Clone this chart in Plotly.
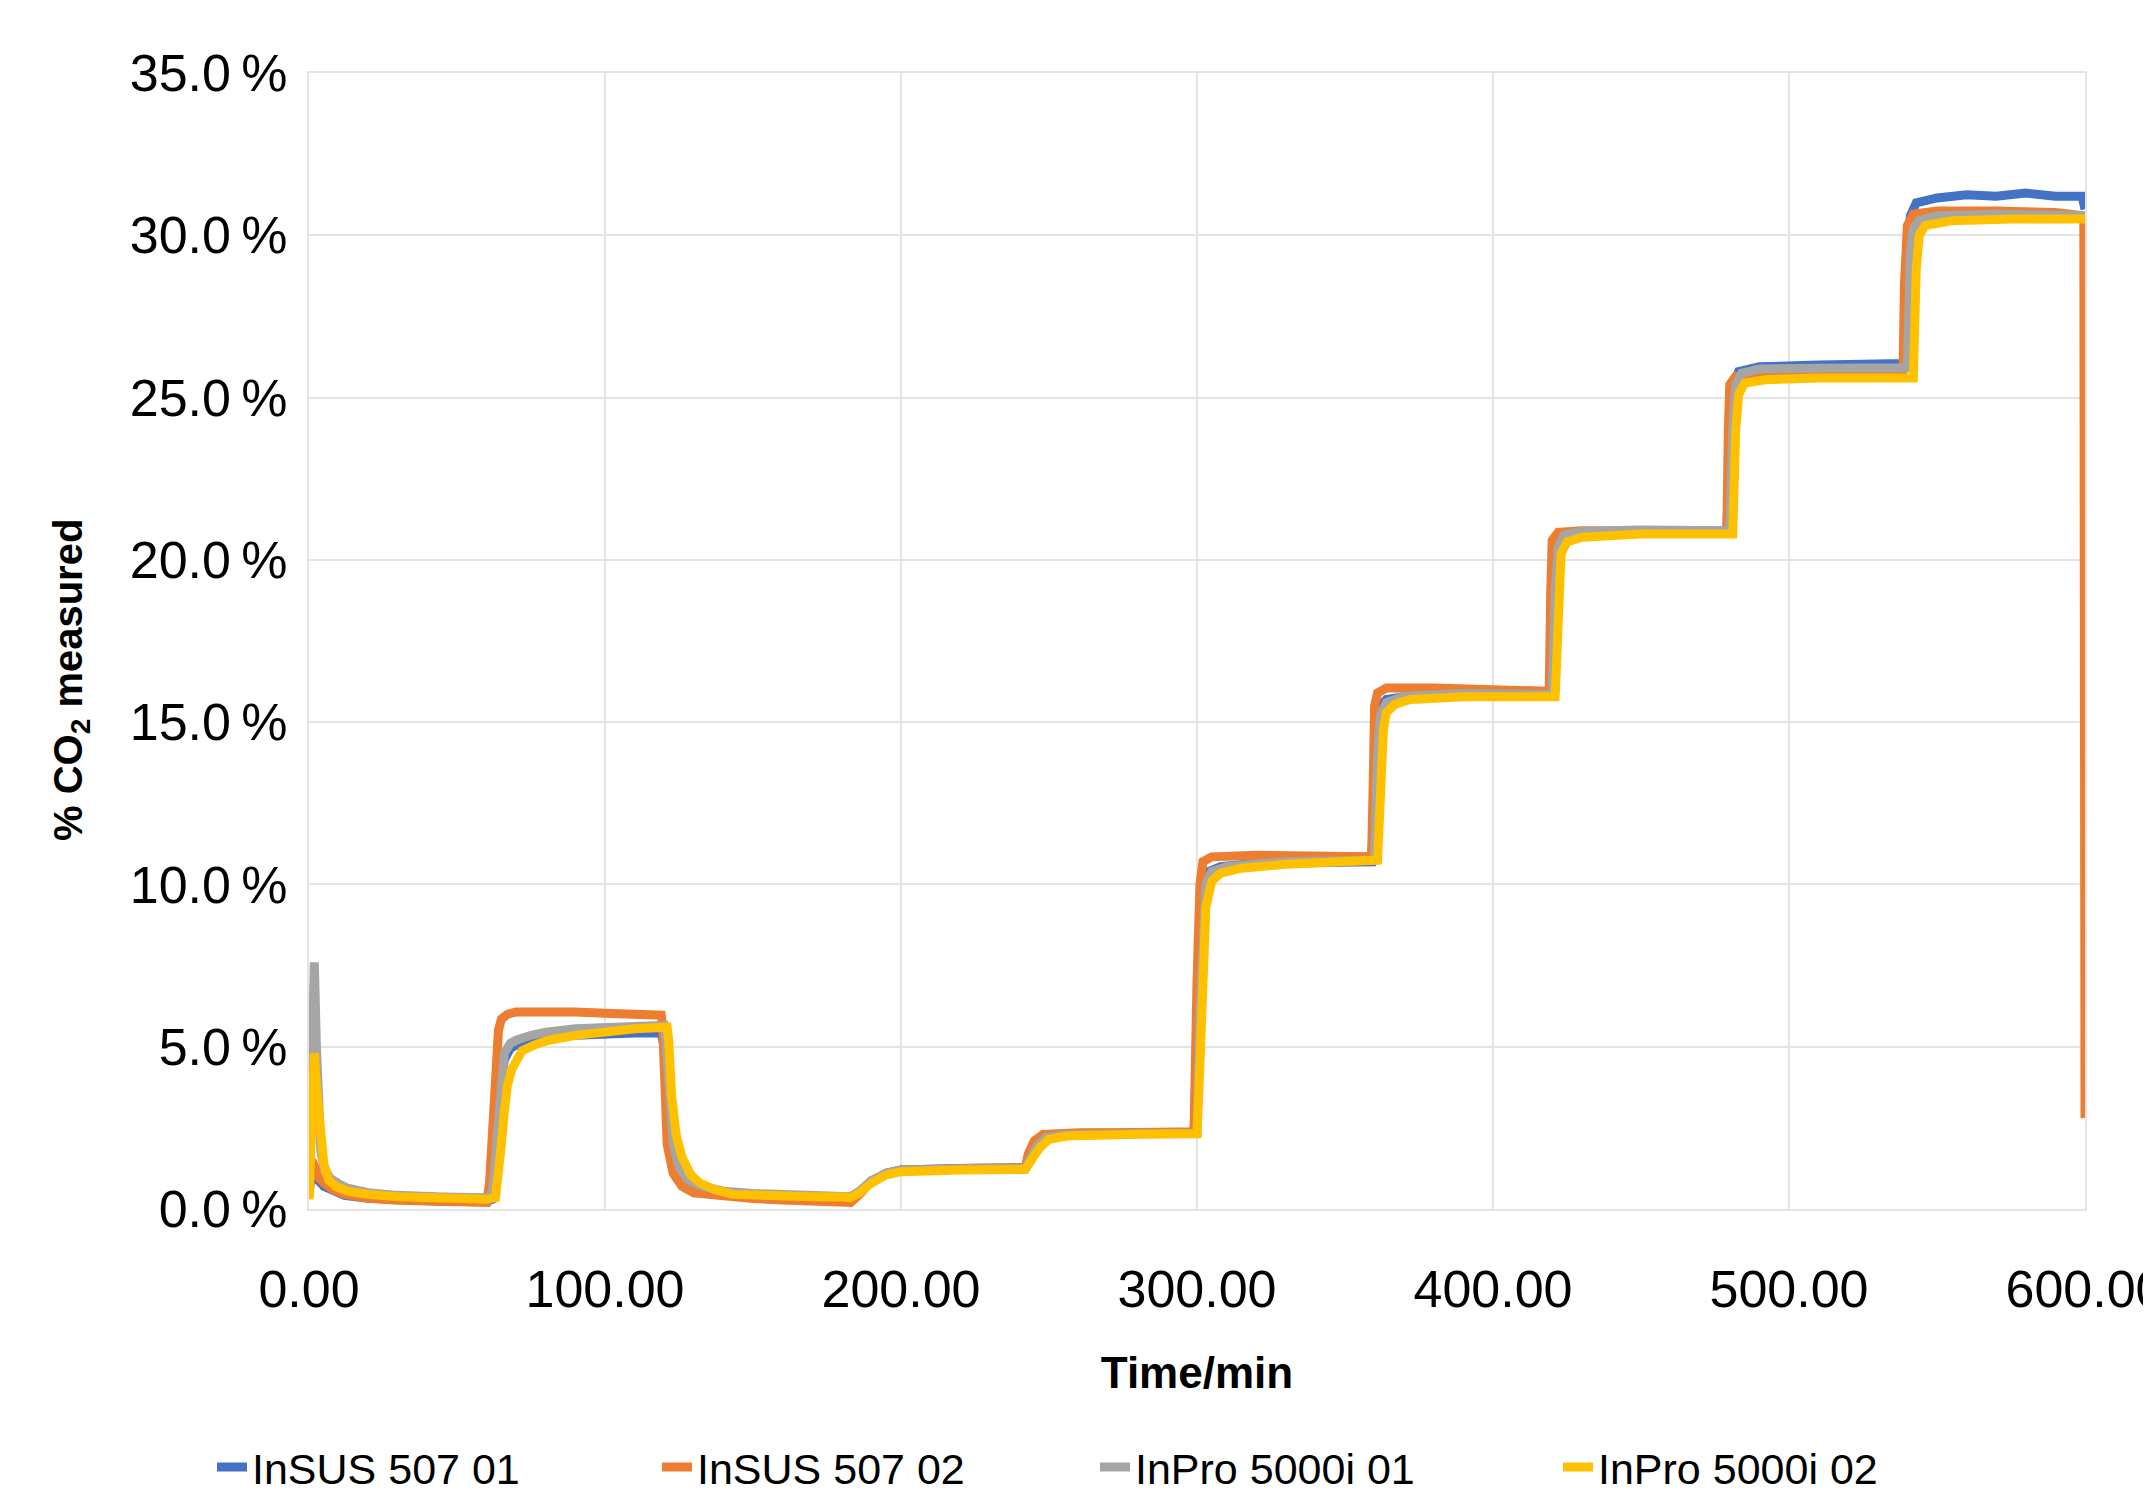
import plotly.graph_objects as go

# ---------------- data ----------------
t_blue = [0, 1, 2, 3, 5, 8, 12, 20, 30, 45, 60, 62, 63, 64, 65, 66, 68, 70, 75, 80, 90, 100, 110, 119,
          120, 121, 122, 124, 127, 130, 135, 140, 150, 160, 170, 180, 183, 186, 190, 195, 200, 220, 242,
          244, 246, 248, 252, 260, 280, 299, 300, 301, 302, 304, 308, 320, 340, 359, 360, 361, 362, 364,
          370, 390, 419, 420, 421, 423, 430, 450, 479, 480, 481, 483, 490, 510, 530, 539, 540, 541, 543,
          550, 560, 570, 580, 590, 599, 600]
y_blue = [0.5, 1.2, 1.1, 0.9, 0.7, 0.55, 0.42, 0.33, 0.28, 0.24, 0.22, 0.3, 1.2, 2.8, 4.0, 4.6, 4.95, 5.05,
          5.2, 5.28, 5.35, 5.4, 5.42, 5.42, 5.0, 3.2, 2.0, 1.2, 0.85, 0.7, 0.58, 0.5, 0.43, 0.4, 0.37, 0.34,
          0.3, 0.5, 0.85, 1.1, 1.2, 1.25, 1.27, 1.6, 1.95, 2.15, 2.28, 2.32, 2.35, 2.35, 5.0, 8.5, 10.0,
          10.4, 10.55, 10.65, 10.7, 10.7, 13.0, 15.0, 15.5, 15.7, 15.78, 15.8, 15.8, 18.5, 20.3, 20.7,
          20.85, 20.88, 20.9, 23.5, 25.3, 25.8, 25.95, 26.0, 26.05, 26.05, 29.0, 30.6, 31.0, 31.15, 31.25,
          31.2, 31.3, 31.2, 31.2, 30.8]

t_orange = [0, 1, 2, 3, 5, 8, 12, 20, 30, 45, 60, 61, 62, 63, 64, 65, 67, 70, 80, 90, 100, 110, 119,
            119.5, 120, 121, 123, 126, 130, 140, 150, 160, 170, 180, 183, 186, 190, 195, 200, 220, 242,
            243, 245, 248, 260, 280, 299, 300, 301, 302, 305, 320, 340, 359, 359.5, 360, 361, 364, 380,
            400, 419, 419.5, 420, 422, 430, 450, 479, 479.5, 480, 482, 490, 520, 538.5, 539, 540, 542,
            550, 570, 590, 599.6, 600]
y_orange = [0.4, 1.5, 1.3, 1.0, 0.8, 0.6, 0.45, 0.33, 0.27, 0.22, 0.2, 0.8, 2.5, 4.5, 5.5, 5.85, 6.0,
            6.07, 6.08, 6.07, 6.03, 6.0, 5.97, 5.6, 3.5, 2.0, 1.1, 0.7, 0.5, 0.38, 0.32, 0.28, 0.25, 0.22,
            0.2, 0.45, 0.85, 1.1, 1.2, 1.25, 1.27, 1.7, 2.1, 2.3, 2.35, 2.36, 2.38, 7.0, 10.0, 10.7, 10.85,
            10.9, 10.88, 10.85, 13.0, 15.5, 15.9, 16.05, 16.05, 16.0, 15.95, 19.0, 20.6, 20.85, 20.9,
            20.88, 20.85, 24.0, 25.4, 25.65, 25.7, 25.7, 25.7, 28.5, 30.3, 30.65, 30.75, 30.75, 30.7,
            30.6, 2.8]

t_gray = [0, 1, 1.8, 2.5, 3, 4, 5, 7, 10, 13, 20, 30, 45, 60, 62, 63, 64, 65, 66, 68, 70, 75, 80, 90,
          100, 110, 120, 120.5, 121.5, 123, 125, 128, 132, 140, 150, 160, 170, 180, 183, 186, 190, 195,
          200, 220, 242, 244, 246, 249, 255, 280, 300, 301, 302, 303, 305, 310, 330, 360, 361, 362, 364,
          370, 390, 420, 421, 422, 424, 430, 450, 480, 481, 482, 484, 490, 510, 540, 541, 542, 544, 550,
          570, 590, 599.5, 600]
y_gray = [0.5, 4.0, 7.6, 5.0, 3.0, 1.8, 1.3, 0.95, 0.78, 0.64, 0.5, 0.42, 0.37, 0.35, 0.5, 1.5, 3.0,
          4.2, 4.8, 5.1, 5.2, 5.35, 5.45, 5.55, 5.6, 5.65, 5.66, 5.3, 3.5, 2.0, 1.3, 0.9, 0.72, 0.55, 0.48,
          0.45, 0.42, 0.4, 0.38, 0.55, 0.88, 1.1, 1.2, 1.23, 1.25, 1.6, 1.95, 2.2, 2.28, 2.32, 2.33, 6.0,
          9.0, 10.0, 10.4, 10.55, 10.7, 10.75, 14.0, 15.2, 15.6, 15.8, 15.88, 15.85, 19.0, 20.4, 20.75,
          20.88, 20.92, 20.9, 24.0, 25.4, 25.75, 25.88, 25.9, 25.92, 29.5, 30.2, 30.45, 30.6, 30.65,
          30.65, 30.6, 30.5]

t_yellow = [0, 1, 1.8, 2.5, 3.5, 5, 6.6, 9, 13, 20, 30, 45, 60, 63, 64, 65, 66, 67, 68.5, 70, 72, 76,
            81, 90, 98, 110, 121, 121.5, 122.5, 124, 126, 129, 132, 137, 143, 150, 160, 170, 180, 183,
            186, 190, 195, 200, 220, 242, 244, 247, 250, 256, 280, 300, 301, 302, 303, 305, 308, 315,
            330, 361, 362, 363, 364, 367, 372, 390, 421, 422, 423, 425, 430, 450, 481, 482, 483, 485,
            492, 510, 542, 543, 544, 546, 555, 575, 599.5, 600]
y_yellow = [0.3, 2.5, 4.8, 3.8, 2.5, 1.4, 0.9, 0.7, 0.55, 0.45, 0.38, 0.32, 0.3, 0.35, 1.0, 2.0, 3.0,
            3.8, 4.3, 4.6, 4.88, 5.05, 5.2, 5.35, 5.45, 5.55, 5.6, 5.2, 3.5, 2.3, 1.6, 1.05, 0.8, 0.6,
            0.45, 0.42, 0.4, 0.38, 0.37, 0.35, 0.5, 0.8, 1.05, 1.15, 1.2, 1.22, 1.5, 1.9, 2.15, 2.25, 2.3,
            2.32, 4.5, 7.5, 9.3, 10.1, 10.35, 10.5, 10.62, 10.75, 13.5, 14.8, 15.3, 15.55, 15.7, 15.78,
            15.78, 19.0, 20.2, 20.55, 20.7, 20.8, 20.8, 24.0, 25.1, 25.45, 25.55, 25.6, 25.6, 29.0, 30.0,
            30.3, 30.45, 30.5, 30.5, 30.5]

series_names = ["InSUS 507 01", "InSUS 507 02", "InPro 5000i 01", "InPro 5000i 02"]
series_colors = ["#4472C4", "#ED7D31", "#A5A5A5", "#FFC000"]

x_ticks = [0, 100, 200, 300, 400, 500, 600]
x_tick_labels = ["0.00", "100.00", "200.00", "300.00", "400.00", "500.00", "600.00"]
y_ticks = [0, 5, 10, 15, 20, 25, 30, 35]
y_tick_labels = ["0.0\u2009%", "5.0\u2009%", "10.0\u2009%", "15.0\u2009%", "20.0\u2009%",
                 "25.0\u2009%", "30.0\u2009%", "35.0\u2009%"]
x_title = "<b>Time/min</b>"
y_title = "<b>% CO<sub>2</sub> measured</b>"

# ---------------- figure ----------------
# the page body has a default margin, so the figure is offset by a few px
W, H = 2151, 1491
L, R, T, B = 301, 74, 65, 290
plot_w = W - L - R
plot_h = H - T - B

regular = "Liberation Sans, Arial, sans-serif"

fig = go.Figure()
data = [(t_blue, y_blue), (t_orange, y_orange), (t_gray, y_gray), (t_yellow, y_yellow)]
legend_ids = ["legend", "legend2", "legend3", "legend4"]
for (tx, ty), name, col, lg in zip(data, series_names, series_colors, legend_ids):
    fig.add_trace(go.Scatter(x=tx, y=ty, mode="lines", name=name,
                             line=dict(color=col, width=9), legend=lg))

# legend item left edges (page px, before the body offset)
legend_px = [204, 649, 1087, 1550]
legend_common = dict(orientation="h", yanchor="middle", xanchor="left",
                     y=(H - B - 1459) / plot_h,
                     font=dict(family=regular, size=43, color="#000"),
                     bgcolor="rgba(0,0,0,0)", itemwidth=30, tracegroupgap=0)
legends = {}
for lg, px in zip(legend_ids, legend_px):
    legends[lg] = dict(x=(px - L) / plot_w, **legend_common)

fig.update_layout(
    width=W, height=H, autosize=False,
    margin=dict(l=L, r=R, t=T, b=B, autoexpand=False),
    paper_bgcolor="white", plot_bgcolor="white",
    showlegend=True,
    **legends,
)

# y-axis title sits below the axis centre in the reference -> rotated annotation
fig.add_annotation(text=y_title, textangle=-90, showarrow=False,
                   xref="paper", yref="paper", xanchor="center", yanchor="middle",
                   x=(63 - L) / plot_w, y=(H - B - 672) / plot_h,
                   font=dict(family=regular, size=40, color="#000"))

fig.update_xaxes(
    range=[0, 600], tickvals=x_ticks, ticktext=x_tick_labels, ticklabeloverflow="allow",
    showgrid=True, gridcolor="#E4E4E4", gridwidth=2,
    showline=True, linecolor="#E4E4E4", linewidth=2, mirror=True,
    ticks="outside", ticklen=34, tickcolor="rgba(0,0,0,0)",
    tickfont=dict(family=regular, size=52, color="#000"),
    zeroline=False, automargin=False,
    title=dict(text=x_title, font=dict(family=regular, size=44, color="#000"), standoff=40),
)
fig.update_yaxes(
    range=[0, 35], tickvals=y_ticks, ticktext=y_tick_labels, ticklabeloverflow="allow",
    showgrid=True, gridcolor="#E4E4E4", gridwidth=2,
    showline=True, linecolor="#E4E4E4", linewidth=2, mirror=True,
    ticks="outside", ticklen=9, tickcolor="rgba(0,0,0,0)",
    tickfont=dict(family=regular, size=52, color="#000"),
    zeroline=False, automargin=False,
)

fig.write_html("out.html")
